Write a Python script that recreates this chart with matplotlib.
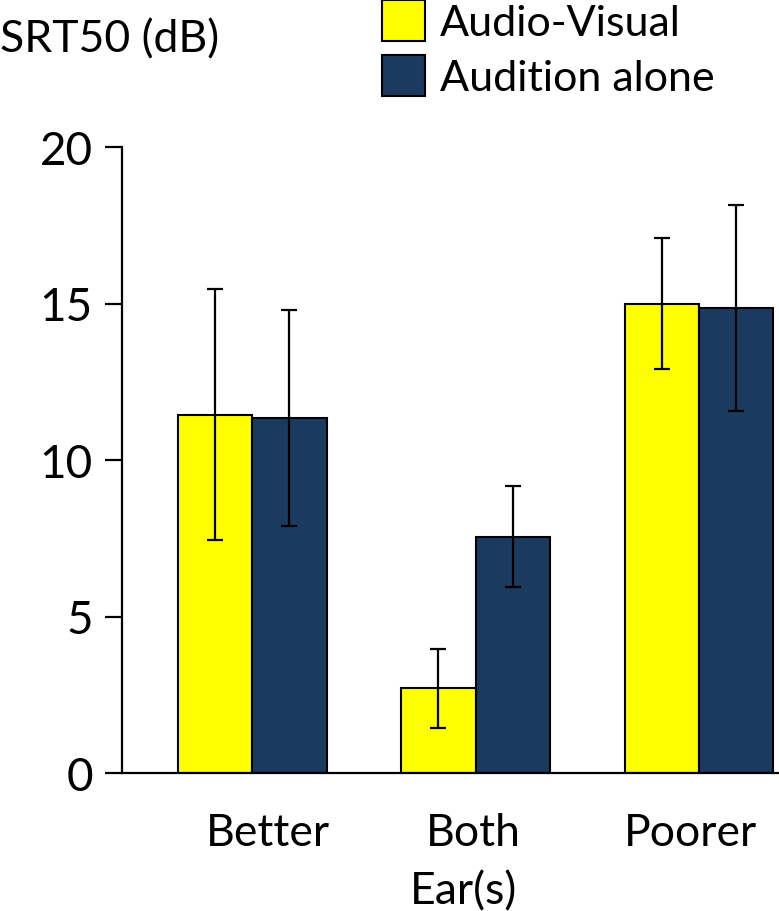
import numpy as np
import matplotlib
matplotlib.use('Agg')
import matplotlib.pyplot as plt

# data
groups = ['Better', 'Both', 'Poorer']
series = ['Audio-Visual', 'Audition alone']
av_mean = [11.45, 2.7, 15.0]
av_err = [4.0, 1.27, 2.1]
aa_mean = [11.35, 7.55, 14.85]
aa_err = [3.45, 1.62, 3.3]
colors = ['#FFFF00', '#1B3A5F']

plt.rcParams['font.family'] = ['Lato', 'DejaVu Sans']

fig = plt.figure(figsize=(7.79, 9.12), dpi=100)
ax = fig.add_axes([122 / 779, 1 - 774 / 912, 1 - 122 / 779, (774 - 148) / 912])

x = np.arange(len(groups))
w = 1 / 3
err_kw = dict(ecolor='black', elinewidth=1.6, capsize=6, capthick=1.6)
b1 = ax.bar(x - w / 2, av_mean, w, yerr=av_err, color=colors[0],
            edgecolor='black', linewidth=1.5, label=series[0], error_kw=err_kw)
b2 = ax.bar(x + w / 2, aa_mean, w, yerr=aa_err, color=colors[1],
            edgecolor='black', linewidth=1.5, label=series[1], error_kw=err_kw)

ax.set_xlim(-0.582, 2.358)
ax.set_ylim(0, 20)
ax.set_yticks([0, 5, 10, 15, 20])
# labels sit a little off the group centres in the original
ax.set_xticks(x + np.array([0.07, -0.01, -0.04]))
ax.set_xticklabels(groups)
for s in ['top', 'right']:
    ax.spines[s].set_visible(False)
for s in ['left', 'bottom']:
    ax.spines[s].set_linewidth(1.6)
ax.tick_params(axis='y', direction='out', length=12, width=1.6, pad=9, labelsize=33)
ax.tick_params(axis='x', length=0, pad=28, labelsize=32)

fig.text(464 / 779, 1 - 892 / 912, 'Ear(s)', fontsize=32, ha='center', va='center')
fig.text(0.0, 1 - 40 / 912, 'SRT50 (dB)', fontsize=32, ha='left', va='center')
fig.legend(handles=[b1, b2], loc='upper left', bbox_to_anchor=(365 / 779, 1.018),
           frameon=False, fontsize=31, handlelength=1.0, handleheight=1.1,
           handletextpad=0.35, labelspacing=0.3, borderaxespad=0)

fig.savefig('out.png', dpi=100)
